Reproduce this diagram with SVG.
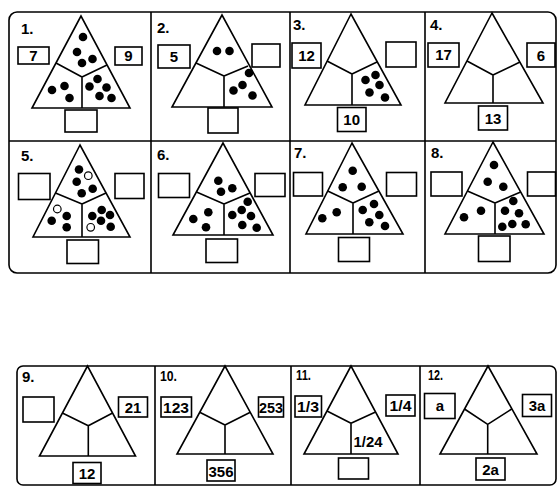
<svg xmlns="http://www.w3.org/2000/svg" width="560" height="488" viewBox="0 0 560 488">
<style>
.ln{fill:none;stroke:#000;stroke-width:1.6;stroke-linejoin:round}
.bx{fill:#fff;stroke:#000;stroke-width:1.6}
.tr{fill:#fff;stroke:#000;stroke-width:1.6;stroke-linejoin:miter}
.lab{font-family:"Liberation Sans",Arial,sans-serif;font-weight:bold;font-size:15px;fill:#000}
.num{font-family:"Liberation Sans",Arial,sans-serif;font-weight:bold;font-size:15px;fill:#000;text-anchor:middle}
.nn{font-family:"Liberation Sans Narrow","Liberation Sans",Arial,sans-serif;font-weight:bold;font-size:15px;fill:#000;text-anchor:middle}
.d{fill:#000}
.o{fill:#fff;stroke:#000;stroke-width:1.2}
</style>
<defs>
<clipPath id="bp"><rect x="17" y="366" width="539" height="119"/></clipPath>
</defs>
<rect fill="#fff" width="560" height="488"/>
<g id="frames" class="ln">
<rect x="9" y="12" width="547" height="261" rx="8"/>
<path d="M9,141 H556 M151,12 V273 M290,12 V273 M425,12 V273"/>
<rect x="17" y="366" width="539" height="119" rx="6"/>
<path d="M155,366 V485 M291,366 V485 M420,366 V485"/>
</g>
<g id="c1">
<polygon class="tr" points="81,16 32,108 130,108"/>
<path class="ln" d="M56,63 L82,77 L107,65 M82,77 V108"/>
<rect class="bx" x="18" y="47" width="31" height="17"/><text class="num" x="33.5" y="61">7</text>
<rect class="bx" x="115" y="47" width="27" height="18"/><text class="num" x="128.5" y="61">9</text>
<rect class="bx" x="65" y="110" width="32" height="22"/>
<circle class="d" cx="83" cy="37" r="4.3"/><circle class="d" cx="77" cy="52" r="4.3"/><circle class="d" cx="92.5" cy="59" r="4.3"/><circle class="d" cx="82" cy="63" r="4.3"/>
<circle class="d" cx="52" cy="90" r="4.3"/><circle class="d" cx="64.5" cy="86" r="4.3"/><circle class="d" cx="69.5" cy="98" r="4.3"/>
<circle class="d" cx="97.5" cy="79" r="4.3"/><circle class="d" cx="89.5" cy="86.5" r="4.3"/><circle class="d" cx="106.5" cy="87.5" r="4.3"/><circle class="d" cx="99.5" cy="96" r="4.3"/><circle class="d" cx="111.5" cy="98" r="4.3"/>
<text class="lab" x="21" y="34">1.</text>
</g>
<g id="c2">
<polygon class="tr" points="222,15 172,107 272,107"/>
<path class="ln" d="M196,63 L224,76 L248,66 M224,76 V107"/>
<rect class="bx" x="158" y="45" width="32" height="23"/><text class="num" x="174" y="62">5</text>
<rect class="bx" x="252" y="44" width="28" height="23"/>
<rect class="bx" x="208" y="108" width="30" height="25"/>
<circle class="d" cx="217" cy="51" r="4.3"/><circle class="d" cx="229.5" cy="51" r="4.3"/>
<circle class="d" cx="249" cy="73" r="4.3"/><circle class="d" cx="242.5" cy="85" r="4.3"/><circle class="d" cx="233.5" cy="90.5" r="4.3"/><circle class="d" cx="252.5" cy="95.5" r="4.3"/>
<text class="lab" x="157" y="33">2.</text>
</g>
<g id="c3">
<polygon class="tr" points="351,14 305,105 401,105"/>
<path class="ln" d="M327,61 L352,74 L377,62 M352,74 V105"/>
<rect class="bx" x="292" y="43" width="29" height="25"/><text class="nn" x="306.5" y="61">12</text>
<rect class="bx" x="386" y="42" width="30" height="25"/>
<rect class="bx" x="337.5" y="107.5" width="28.5" height="24"/><text class="nn" x="351.7" y="125">10</text>
<circle class="d" cx="365.5" cy="80" r="4.3"/><circle class="d" cx="375.5" cy="75" r="4.3"/><circle class="d" cx="379.5" cy="85" r="4.3"/><circle class="d" cx="369.5" cy="92.5" r="4.3"/><circle class="d" cx="385" cy="97.5" r="4.3"/>
<text class="lab" x="293" y="30">3.</text>
</g>
<g id="c4">
<polygon class="tr" points="492,13 445,103 543,103"/>
<path class="ln" d="M467,61 L493,75 L520,62 M493,75 V103"/>
<rect class="bx" x="428" y="43" width="31" height="24"/><text class="nn" x="443.5" y="60">17</text>
<rect class="bx" x="527" y="43" width="28" height="24"/><text class="num" x="541" y="61">6</text>
<rect class="bx" x="478.5" y="106" width="29" height="24"/><text class="nn" x="493" y="124">13</text>
<text class="lab" x="430" y="30">4.</text>
</g>
<g id="c5">
<polygon class="tr" points="80,145 33,237 130,237"/>
<path class="ln" d="M55.5,193 L82,204 L106,193 M82,204 V237"/>
<rect class="bx" x="18.5" y="173.5" width="31.5" height="26"/>
<rect class="bx" x="115" y="173.5" width="29" height="25"/>
<rect class="bx" x="67" y="240" width="31.5" height="23.5"/>
<circle class="d" cx="79" cy="169.5" r="4.3"/><circle class="o" cx="88.3" cy="175.7" r="3.8"/><circle class="d" cx="76.7" cy="181.7" r="4.3"/><circle class="d" cx="92.7" cy="188.7" r="4.3"/><circle class="d" cx="81.7" cy="193.3" r="4.3"/>
<circle class="o" cx="57.3" cy="209" r="3.8"/><circle class="d" cx="66.7" cy="216" r="4.3"/><circle class="d" cx="51.7" cy="220.7" r="4.3"/><circle class="d" cx="66.7" cy="227.3" r="4.3"/>
<circle class="d" cx="101.7" cy="210" r="4.3"/><circle class="d" cx="110" cy="215" r="4.3"/><circle class="d" cx="92.3" cy="216" r="4.3"/><circle class="d" cx="101" cy="220.7" r="4.3"/><circle class="d" cx="110.7" cy="226.7" r="4.3"/><circle class="o" cx="90.7" cy="227.3" r="3.8"/>
<text class="lab" x="21" y="161">5.</text>
</g>
<g id="c6">
<polygon class="tr" points="223,143 173,235 273,235"/>
<path class="ln" d="M196.5,192 L224,204 L250,193 M224,204 V235"/>
<rect class="bx" x="158.5" y="173.5" width="31" height="24"/>
<rect class="bx" x="255" y="173.5" width="30" height="23"/>
<rect class="bx" x="206" y="239" width="31.5" height="23.5"/>
<circle class="d" cx="218.3" cy="180.7" r="4.3"/><circle class="d" cx="232.3" cy="188.3" r="4.3"/><circle class="d" cx="221" cy="191.7" r="4.3"/>
<circle class="d" cx="208.3" cy="212.3" r="4.3"/><circle class="d" cx="193.3" cy="219" r="4.3"/><circle class="d" cx="206" cy="227.3" r="4.3"/>
<circle class="d" cx="247.7" cy="201.7" r="4.3"/><circle class="d" cx="241.7" cy="210" r="4.3"/><circle class="d" cx="232.3" cy="215" r="4.3"/><circle class="d" cx="251" cy="216" r="4.3"/><circle class="d" cx="242.3" cy="225" r="4.3"/><circle class="d" cx="256.7" cy="227.7" r="4.3"/>
<text class="lab" x="157" y="160">6.</text>
</g>
<g id="c7">
<polygon class="tr" points="352,143 306,234 403,234"/>
<path class="ln" d="M327.7,191 L353,203 L379,191 M353,203 V234"/>
<rect class="bx" x="293.5" y="172.5" width="29" height="23.5"/>
<rect class="bx" x="386.5" y="172.5" width="30" height="23.5"/>
<rect class="bx" x="338.5" y="237.5" width="31" height="24"/>
<circle class="d" cx="352.7" cy="170.7" r="4.3"/><circle class="d" cx="342.7" cy="187.3" r="4.3"/><circle class="d" cx="361.7" cy="186.7" r="4.3"/>
<circle class="d" cx="336.7" cy="212.3" r="4.3"/><circle class="d" cx="322.3" cy="218.3" r="4.3"/>
<circle class="d" cx="374" cy="204" r="4.3"/><circle class="d" cx="362.7" cy="210" r="4.3"/><circle class="d" cx="379.3" cy="215" r="4.3"/><circle class="d" cx="369.3" cy="222.3" r="4.3"/><circle class="d" cx="385" cy="226" r="4.3"/>
<text class="lab" x="294" y="158">7.</text>
</g>
<g id="c8">
<polygon class="tr" points="493,142 445,234 544,234"/>
<path class="ln" d="M467.4,191 L495,203 L520.7,192 M495,203 V234"/>
<rect class="bx" x="431" y="172" width="31" height="24"/>
<rect class="bx" x="527.5" y="172" width="28" height="24"/>
<rect class="bx" x="478.5" y="236" width="31.5" height="25.5"/>
<circle class="d" cx="494" cy="165" r="4.3"/><circle class="d" cx="487.7" cy="181.7" r="4.3"/><circle class="d" cx="503.3" cy="186.7" r="4.3"/>
<circle class="d" cx="481" cy="210.7" r="4.3"/><circle class="d" cx="464" cy="217.3" r="4.3"/>
<circle class="d" cx="513.3" cy="201" r="4.3"/><circle class="d" cx="505" cy="210.7" r="4.3"/><circle class="d" cx="519" cy="213.3" r="4.3"/><circle class="d" cx="512.3" cy="224" r="4.3"/><circle class="d" cx="502.3" cy="226.7" r="4.3"/><circle class="d" cx="525.7" cy="224.3" r="4.3"/>
<text class="lab" x="431" y="158">8.</text>
</g>
<g id="c9">
<polygon class="tr" points="87.5,366 39.5,456 135.5,456"/>
<path class="ln" d="M62.4,413 L88.3,425.7 L112.6,413 M88.3,425.7 V456"/>
<rect class="bx" x="23" y="397" width="31" height="25"/>
<rect class="bx" x="118.5" y="397" width="29" height="20"/><text class="nn" x="133" y="413">21</text>
<rect class="bx" x="73" y="462.5" width="28" height="21"/><text class="nn" x="87" y="479">12</text>
<text class="lab" x="22" y="382">9.</text>
</g>
<g id="c10">
<polygon class="tr" points="225,366 177,454 273,454"/>
<path class="ln" d="M199.7,412.3 L225,425 L250.3,412.3 M225,425 V454"/>
<rect class="bx" x="161" y="397" width="30.5" height="20"/><text class="nn" x="176" y="413" textLength="26" lengthAdjust="spacingAndGlyphs">123</text>
<rect class="bx" x="258.5" y="397" width="25" height="20"/><text class="nn" x="271" y="413" textLength="24" lengthAdjust="spacingAndGlyphs">253</text>
<rect class="bx" x="207" y="460" width="28" height="21"/><text class="nn" x="221" y="477" textLength="25" lengthAdjust="spacingAndGlyphs">356</text>
<text class="lab" x="160" y="381" textLength="17" lengthAdjust="spacingAndGlyphs">10.</text>
</g>
<g id="c11">
<polygon class="tr" points="351,366 304,454 398,454"/>
<path class="ln" d="M327,411 L351,423.3 L375,412.3 M351,423.3 V454"/>
<rect class="bx" x="295" y="396" width="26.5" height="21"/><text class="nn" x="308" y="412" textLength="22" lengthAdjust="spacingAndGlyphs">1/3</text>
<rect class="bx" x="386" y="395" width="29" height="21"/><text class="nn" x="400.5" y="411" textLength="22" lengthAdjust="spacingAndGlyphs">1/4</text>
<text class="nn" x="368" y="447" textLength="29" lengthAdjust="spacingAndGlyphs">1/24</text>
<rect class="bx" x="338.5" y="458" width="30" height="21"/>
<text class="lab" x="296" y="380" textLength="15" lengthAdjust="spacingAndGlyphs">11.</text>
</g>
<g id="c12">
<polygon class="tr" points="488,366 440,454 537,454"/>
<path class="ln" d="M464.5,409 L487.7,424.3 L511.7,409 M487.7,424.3 V454"/>
<rect class="bx" x="424.5" y="393.5" width="30.5" height="25"/><text class="num" x="440" y="411">a</text>
<rect class="bx" x="522.5" y="394.5" width="29" height="22"/><text class="nn" x="537" y="411">3a</text>
<rect class="bx" x="476" y="458" width="29" height="22"/><text class="nn" x="490.5" y="475">2a</text>
<text class="lab" x="428" y="380" textLength="15" lengthAdjust="spacingAndGlyphs">12.</text>
</g>
</svg>
